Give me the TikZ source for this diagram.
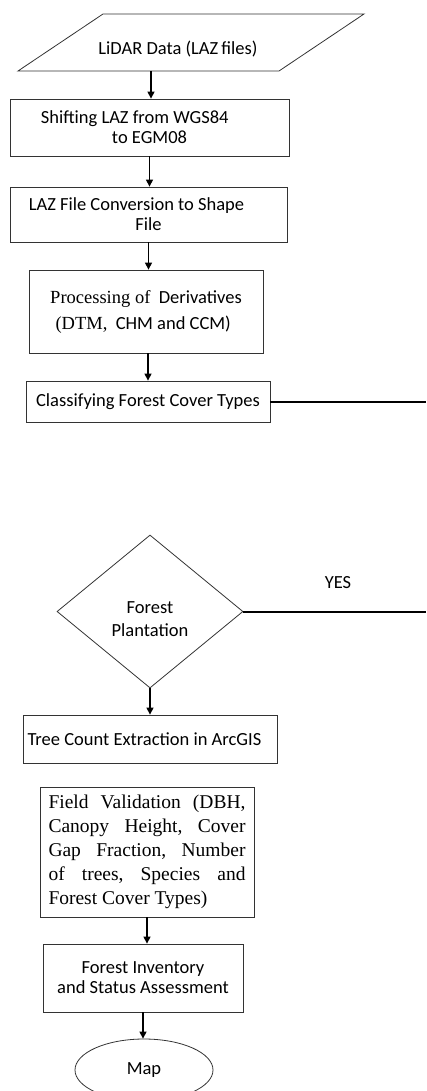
\documentclass[tikz,border=0pt]{standalone}
\usepackage{fontspec}
\setmainfont{Carlito}
\newfontfamily\serifpart{Liberation Serif}
\usetikzlibrary{arrows.meta, shapes.geometric}

\begin{document}
\begin{tikzpicture}[%
        x = 1pt,
        y = -1pt,
        line width = 0.8pt,
        > = {Triangle[length = 7pt, width = 7pt]},
        font = \fontsize{18.5}{20}\selectfont,
        proc/.style = {
            draw = black!80,
            rectangle,
            inner sep = 0pt,
            align = center
        },
        arrowline/.style = {->, line width = 1.2pt},
        branch/.style = {line width = 2pt}
    ]

        % Fix the page to the size of the reference.
        \useasboundingbox (0, 0) rectangle (426, 1091);

        % Input data as a slanted box.
        \draw[draw = black!80] (103, 14) -- (364, 14) -- (279, 71) -- (18, 71) -- cycle;
        \node (data) at (178, 49) {LiDAR Data (LAZ\,files)};
        \coordinate (dataout) at (151, 71);

        % Processing steps.
        \node[proc, minimum width = 279, minimum height = 57] (shift) at (149.5, 127.5)
            {Shifting LAZ from WGS84\hspace*{1.6em}\\ to EGM08};
        \node[proc, minimum width = 277, minimum height = 55] (shape) at (148.5, 214.5)
            {LAZ File Conversion to Shape\hspace*{1.3em}\\ File};
        \node[proc, minimum width = 234, minimum height = 83,
              font = \fontsize{18.5}{26}\selectfont] (deriv) at (146, 311.5)
            {{\serifpart Processing of}\ \ Derivatives\\ {\serifpart(DTM,}\ \ CHM and CCM)\hspace*{0.3em}};
        \node[proc, minimum width = 244, minimum height = 41] (classify) at (148, 401.5)
            {Classifying Forest Cover Types};

        % Decision.
        \node[diamond, draw = black!80, inner sep = 0pt, align = center,
              minimum width = 186, minimum height = 153,
              font = \fontsize{18.5}{23}\selectfont] (plant) at (150, 611.5)
            {\\[4pt]Forest\\ Plantation};
        \node (yes) at (338, 583) {YES};

        % Steps after the decision.
        \node[proc, minimum width = 254, minimum height = 48] (count) at (150, 739)
            {Tree Count Extraction in ArcGIS\hspace*{0.6em}};
        \node[proc, minimum width = 214, minimum height = 130, text width = 197,
              inner xsep = 8.5pt, align = justify,
              font = \serifpart\fontsize{19.5}{24}\selectfont] (field) at (147, 852)
            {Field\hfill Validation\hfill (DBH,\\
             Canopy\hfill Height,\hfill Cover\\
             Gap\hfill Fraction,\hfill Number\\
             of\hfill trees,\hfill Species\hfill and\\
             Forest Cover Types)};
        \node[proc, minimum width = 200, minimum height = 68] (inventory) at (143, 978)
            {Forest Inventory\\ and Status Assessment};
        \node[ellipse, draw = black!80, minimum width = 138, minimum height = 62] (map) at (144, 1070)
            {Map};

        % Arrows between the steps.
        \draw[arrowline] (dataout) to (dataout |- shift.north);
        \draw[arrowline] (shift.south) to (shift.south |- shape.north);
        \draw[arrowline] (shape.south) to (shape.south |- deriv.north);
        \draw[arrowline] (deriv.south -| classify.north) to (classify.north);
        \draw[arrowline] (plant.south) to (plant.south |- count.north);
        \draw[arrowline] (field.south) to (field.south |- inventory.north);
        \draw[arrowline] (inventory.south) to (inventory.south |- map.north);

        % Lines running off to the right edge.
        \coordinate (edge) at (426, 0);
        \draw[branch] (classify.east) to (classify.east -| edge);
        \draw[branch] (plant.east) to (plant.east -| edge);
    \end{tikzpicture}
\end{document}
